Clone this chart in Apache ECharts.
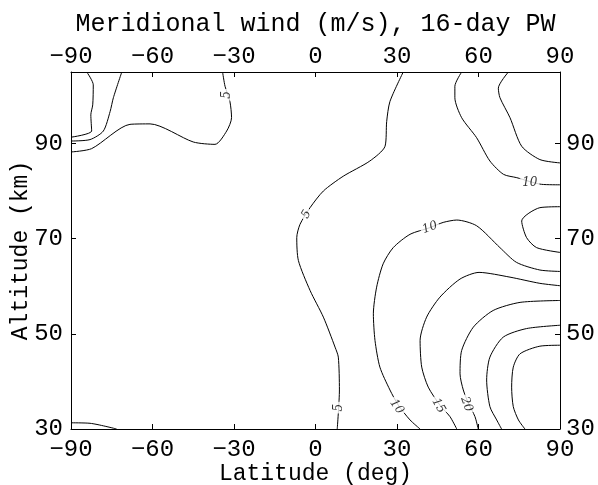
<!DOCTYPE html>
<html>
<head>
<meta charset="utf-8">
<script src="https://cdn.jsdelivr.net/npm/echarts@6/dist/echarts.min.js"></script>
<style>
  html, body { margin: 0; padding: 0; background: #fff; }
  #chart { width: 598px; height: 485px; }
</style>
</head>
<body>
<div id="chart"></div>
<script>
// axis ticks
var latTicks = [-90, -60, -30, 0, 30, 60, 90];
var altTicks = [30, 50, 70, 90];

// contour lines, [latitude, altitude]
var shInner = [[-84.2, 105], [-81.8, 102.3], [-82.0, 98.1], [-82.7, 96.0], [-82.4, 92.6], [-90, 91.3]];
var shMiddle = [[-71.3, 105], [-74.4, 99.6], [-75.6, 96.7], [-78.1, 92.6], [-83.0, 90.8], [-90, 90.5]];
var shFive = [[-90, 88.2], [-82.4, 88.9], [-68.3, 94.0], [-60.9, 94.1], [-45.0, 90.3], [-37.0, 89.8],
  [-32.7, 92.6], [-30.9, 95.4], [-31.5, 98.8], [-33.3, 102.0], [-34.2, 105]];
var eqFive = [[32.3, 105], [27.4, 98.8], [26.2, 94.6], [25.6, 89.4], [20.0, 86.3], [10.2, 83.1],
  [2.9, 80.0], [-2.0, 76.5], [-5.7, 73.0], [-6.9, 70.2], [-6.3, 65.4], [-2.0, 59.1], [2.9, 53.5],
  [7.2, 47.2], [8.4, 45.1], [8.8, 38.2], [8.0, 30]];
var nhTopTen = [[53.8, 105], [51.3, 102.0], [51.3, 99.6], [53.8, 95.4], [59.3, 91.2], [64.2, 86.3],
  [69.2, 83.5], [74.1, 82.8], [83.2, 81.4], [90, 81.3]];
var nhTopFifteen = [[71.0, 105], [67.3, 101.6], [67.9, 99.6], [71.6, 95.4], [75.9, 89.4], [82.6, 86.6], [90, 85.9]];
var nhLoop = [[90, 76.7], [82.6, 76.5], [75.9, 73.7], [77.7, 70.2], [81.4, 68.1], [90, 67.1]];
var nhTen = [[90, 63.1], [82.6, 63.4], [74.0, 65.0], [67.9, 68.1], [59.3, 72.7], [52.0, 73.9], [47.0, 73.4],
  [42.1, 72.3], [34.8, 70.9], [28.6, 68.1], [24.9, 64.7], [22.5, 59.8], [21.3, 54.2], [21.9, 48.6],
  [23.7, 43.0], [27.4, 38.2], [30.5, 35.0], [34.8, 31.9], [38.5, 30]];
var nhFifteen = [[90, 60.1], [82.6, 60.6], [71.6, 61.9], [60.2, 62.9], [53.2, 61.5], [45.8, 57.7],
  [40.9, 53.5], [38.5, 48.6], [39.1, 43.0], [41.5, 38.8], [45.8, 35.0], [49.5, 32.6], [52.0, 30]];
var nhTwenty = [[90, 57.0], [75.3, 56.6], [65.4, 54.9], [58.1, 51.4], [53.8, 46.5], [53.2, 41.6],
  [54.4, 38.2], [56.3, 35.4], [58.7, 32.6], [59.9, 30]];
var nhTwentyFive = [[90, 51.8], [77.7, 51.1], [69.1, 49.3], [64.2, 45.1], [63.0, 40.3], [64.2, 34.7],
  [66.7, 31.9], [68.5, 30]];
var nhThirty = [[90, 47.6], [82.6, 47.4], [75.3, 45.8], [72.8, 43.0], [72.2, 38.8], [72.8, 34.7],
  [74.7, 31.9], [77.1, 30]];
var shBottom = [[-90, 31.3], [-83.0, 31.2], [-73.2, 30]];

var contours = [shInner, shMiddle, shFive, eqFive, nhTopTen, nhTopFifteen, nhLoop,
  nhTen, nhFifteen, nhTwenty, nhTwentyFive, nhThirty, shBottom];

// contour labels: text, position, angle
var labelText = ['5', '5', '5', '10', '10', '10', '15', '20'];
var labelPos = [[-32.7, 100.2], [-3.3, 75.1], [8.6, 34.5], [78.9, 81.7], [42.1, 72.3], [29.9, 34.7], [45.3, 34.9], [55.6, 35.2]];
var labelAngle = [90, 60, 90, 0, 20, -55, -60, -70];

var FONT = 'Liberation Mono';

function tickFmt(v) {
  return String(v).replace('-', '\u2212');
}

function altFmt(v) {
  return altTicks.indexOf(v) >= 0 ? String(v) : '';
}

var series = contours.map(function (c) {
  return {
    type: 'line',
    data: c,
    showSymbol: false,
    symbol: 'none',
    smooth: 0.25,
    silent: true,
    lineStyle: { color: '#000', width: 1 },
    z: 2
  };
});

series.push({
  type: 'scatter',
  symbolSize: 0,
  silent: true,
  z: 5,
  data: labelPos.map(function (p, i) {
    return {
      value: p,
      label: {
        show: true,
        position: 'inside',
        formatter: labelText[i],
        rotate: labelAngle[i],
        fontFamily: 'DejaVu Serif',
        fontStyle: 'italic',
        fontSize: 12,
        color: '#000',
        backgroundColor: '#fff',
        padding: [0, 2]
      }
    };
  })
});

function baseAxis(pos, margin) {
  return {
    type: 'value',
    position: pos,
    nameMoveOverlap: false,
    axisLine: { show: true, onZero: false, lineStyle: { color: '#000', width: 1 } },
    axisTick: { show: true, inside: true, length: 5, lineStyle: { color: '#000' } },
    splitLine: { show: false },
    axisLabel: { color: '#000', fontFamily: FONT, fontSize: 24, margin: margin }
  };
}

function xAx(pos, margin) {
  var a = baseAxis(pos, margin);
  a.min = -90;
  a.max = 90;
  a.interval = 30;
  a.axisLabel.formatter = tickFmt;
  return a;
}

function yAx(pos, margin) {
  var a = baseAxis(pos, margin);
  a.min = 30;
  a.max = 105;
  a.interval = 20;
  a.axisLabel.formatter = altFmt;
  a.axisLabel.showMaxLabel = false;
  return a;
}

var xBottom = xAx('bottom', 9);
xBottom.name = 'Latitude (deg)';
xBottom.nameLocation = 'middle';
xBottom.nameGap = 33;
xBottom.nameTextStyle = { color: '#000', fontFamily: FONT, fontSize: 23 };

var xTop = xAx('top', 3);
xTop.name = 'Meridional wind (m/s), 16-day PW';
xTop.nameLocation = 'middle';
xTop.nameGap = 35;
xTop.nameTextStyle = { color: '#000', fontFamily: FONT, fontSize: 25 };

var yLeft = yAx('left', 8);
yLeft.name = 'Altitude (km)';
yLeft.nameLocation = 'middle';
yLeft.nameGap = 39;
yLeft.nameTextStyle = { color: '#000', fontFamily: FONT, fontSize: 23 };

var option = {
  backgroundColor: '#fff',
  animation: false,
  grid: { left: 71, right: 38, top: 72, bottom: 56, outerBoundsMode: 'none', containLabel: false },
  xAxis: [xBottom, xTop],
  yAxis: [yLeft, yAx('right', 6)],
  series: series
};

var chart = echarts.init(document.getElementById('chart'));
chart.setOption(option);
</script>
</body>
</html>
